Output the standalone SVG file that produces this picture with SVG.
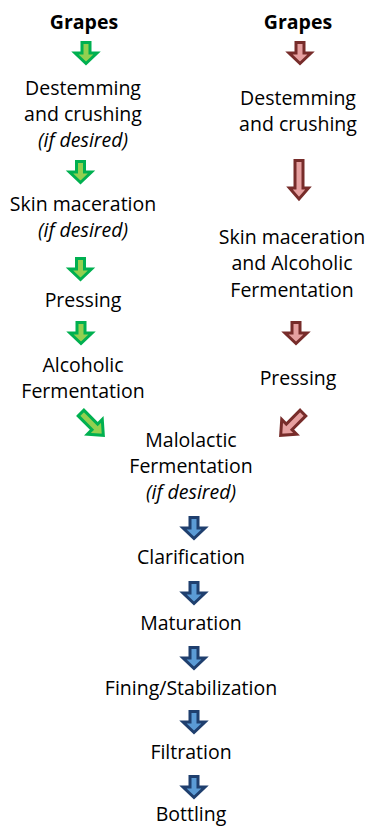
<svg xmlns="http://www.w3.org/2000/svg" xmlns:xlink="http://www.w3.org/1999/xlink" width="369" height="827" viewBox="0 0 369 827">
<style>
text{font-family:"Open Sans","Liberation Sans",sans-serif;font-size:19.5px;fill:#000;text-anchor:middle}
.b{font-weight:bold}
.i{font-style:italic}
.g{fill:#92D050;stroke:#00B050;stroke-width:3;stroke-linejoin:miter}
.r{fill:#E6A0A0;stroke:#772C2A;stroke-width:3;stroke-linejoin:miter}
.u{fill:#5B9BD5;stroke:#1F3F6E;stroke-width:3;stroke-linejoin:miter}
</style>
<defs>
<path id="a" d="M-4,1.5 H4 V12 H11 L0,22.5 L-11,12 H-4 Z"/>
<path id="al" d="M-4,1.5 H4 V29 H9.5 L0,40 L-9.5,29 H-4 Z"/>
<path id="ad" d="M-4,1.5 H4 V21 H10.5 L0,33 L-10.5,21 H-4 Z"/>
</defs>
<g id="connectors">
<use xlink:href="#a" class="g" transform="translate(86,41)"/>
<use xlink:href="#a" class="g" transform="translate(80.5,160)"/>
<use xlink:href="#a" class="g" transform="translate(80.5,257)"/>
<use xlink:href="#a" class="g" transform="translate(81,321)"/>
<use xlink:href="#ad" class="g" transform="translate(80,412) rotate(-45)"/>
<use xlink:href="#a" class="r" transform="translate(300,41)"/>
<use xlink:href="#al" class="r" transform="translate(299,159)"/>
<use xlink:href="#a" class="r" transform="translate(296,321)"/>
<use xlink:href="#ad" class="r" transform="translate(304,412) rotate(45)"/>
<use xlink:href="#a" class="u" transform="translate(194,516)"/>
<use xlink:href="#a" class="u" transform="translate(194,581)"/>
<use xlink:href="#a" class="u" transform="translate(194,646)"/>
<use xlink:href="#a" class="u" transform="translate(194,710)"/>
<use xlink:href="#a" class="u" transform="translate(194,775)"/>
</g>
<g id="grapes-left"><text x="84" y="29" class="b">Grapes</text></g>
<g id="destem-left"><text x="83" y="95">Destemming</text><text x="83" y="121">and crushing</text><text x="83" y="147" class="i">(if desired)</text></g>
<g id="skin-left"><text x="83" y="211">Skin maceration</text><text x="83" y="237" class="i">(if desired)</text></g>
<g id="press-left"><text x="83" y="307">Pressing</text></g>
<g id="alc-left"><text x="83" y="372">Alcoholic</text><text x="83" y="398">Fermentation</text></g>
<g id="grapes-right"><text x="298" y="29" class="b">Grapes</text></g>
<g id="destem-right"><text x="298" y="105">Destemming</text><text x="298" y="131">and crushing</text></g>
<g id="skin-right"><text x="292" y="244">Skin maceration</text><text x="292" y="270">and Alcoholic</text><text x="292" y="297">Fermentation</text></g>
<g id="press-right"><text x="298" y="385">Pressing</text></g>
<g id="malo"><text x="191" y="447">Malolactic</text><text x="191" y="473">Fermentation</text><text x="191" y="499" class="i">(if desired)</text></g>
<g id="clar"><text x="191" y="564">Clarification</text></g>
<g id="mat"><text x="191" y="630">Maturation</text></g>
<g id="fin"><text x="191" y="695">Fining/Stabilization</text></g>
<g id="filt"><text x="191" y="759">Filtration</text></g>
<g id="bott"><text x="191" y="821">Bottling</text></g>
</svg>
